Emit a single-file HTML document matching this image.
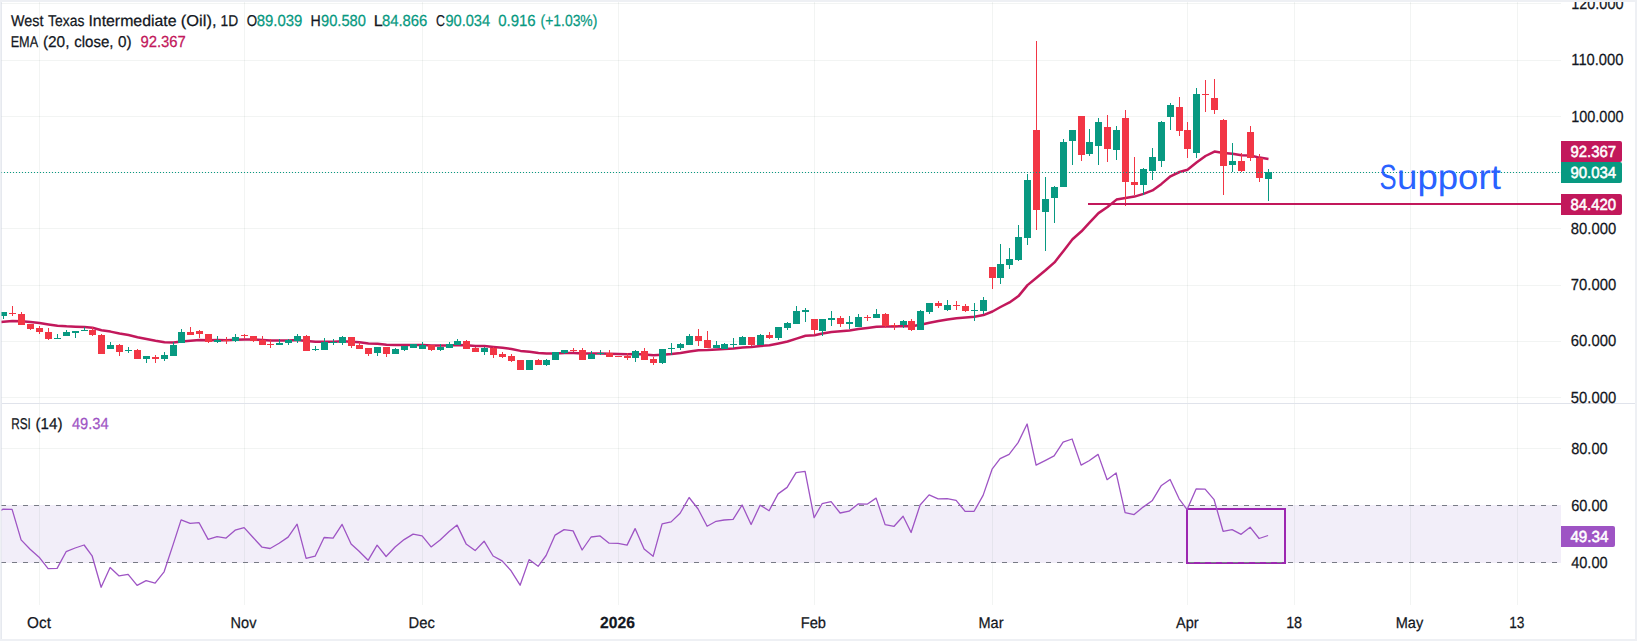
<!DOCTYPE html>
<html lang="en"><head><meta charset="utf-8"><title>WTI Oil chart</title>
<style>html,body{margin:0;padding:0;background:#fff}body{width:1637px;height:641px;overflow:hidden}svg text{font-family:"Liberation Sans",Arial,Helvetica,sans-serif;text-rendering:geometricPrecision}</style></head>
<body>
<svg width="1637" height="641" viewBox="0 0 1637 641" style="display:block">
<rect x="0" y="0" width="1637" height="641" fill="#eef0f4"/>
<rect x="2" y="2" width="1633" height="637" fill="#ffffff"/>
<rect x="1" y="505" width="1560" height="58" fill="#f2eef9"/>
<g shape-rendering="crispEdges" fill="#283c32" fill-opacity="0.06">
<rect x="39" y="2" width="1" height="401"/>
<rect x="39" y="404" width="1" height="201"/>
<rect x="244" y="2" width="1" height="401"/>
<rect x="244" y="404" width="1" height="201"/>
<rect x="422" y="2" width="1" height="401"/>
<rect x="422" y="404" width="1" height="201"/>
<rect x="618" y="2" width="1" height="401"/>
<rect x="618" y="404" width="1" height="201"/>
<rect x="814" y="2" width="1" height="401"/>
<rect x="814" y="404" width="1" height="201"/>
<rect x="992" y="2" width="1" height="401"/>
<rect x="992" y="404" width="1" height="201"/>
<rect x="1187" y="2" width="1" height="401"/>
<rect x="1187" y="404" width="1" height="201"/>
<rect x="1294" y="2" width="1" height="401"/>
<rect x="1294" y="404" width="1" height="201"/>
<rect x="1410" y="2" width="1" height="401"/>
<rect x="1410" y="404" width="1" height="201"/>
<rect x="1517" y="2" width="1" height="401"/>
<rect x="1517" y="404" width="1" height="201"/>
<rect x="1" y="3" width="1560" height="1"/>
<rect x="1" y="60" width="1560" height="1"/>
<rect x="1" y="116" width="1560" height="1"/>
<rect x="1" y="172" width="1560" height="1"/>
<rect x="1" y="228" width="1560" height="1"/>
<rect x="1" y="285" width="1560" height="1"/>
<rect x="1" y="341" width="1560" height="1"/>
<rect x="1" y="397" width="1560" height="1"/>
<rect x="1" y="448" width="1560" height="1"/>
</g>
<rect x="2" y="403" width="1633" height="1" fill="#e0e3eb" shape-rendering="crispEdges"/>
<rect x="1187" y="509" width="98" height="54" fill="none" stroke="#9C27B0" stroke-width="2"/>
<g shape-rendering="crispEdges" fill="#787b86">
<rect x="1" y="505" width="5" height="1"/>
<rect x="12" y="505" width="5" height="1"/>
<rect x="23" y="505" width="5" height="1"/>
<rect x="34" y="505" width="5" height="1"/>
<rect x="45" y="505" width="5" height="1"/>
<rect x="56" y="505" width="5" height="1"/>
<rect x="67" y="505" width="5" height="1"/>
<rect x="78" y="505" width="5" height="1"/>
<rect x="89" y="505" width="5" height="1"/>
<rect x="100" y="505" width="5" height="1"/>
<rect x="111" y="505" width="5" height="1"/>
<rect x="122" y="505" width="5" height="1"/>
<rect x="133" y="505" width="5" height="1"/>
<rect x="144" y="505" width="5" height="1"/>
<rect x="155" y="505" width="5" height="1"/>
<rect x="166" y="505" width="5" height="1"/>
<rect x="177" y="505" width="5" height="1"/>
<rect x="188" y="505" width="5" height="1"/>
<rect x="199" y="505" width="5" height="1"/>
<rect x="210" y="505" width="5" height="1"/>
<rect x="221" y="505" width="5" height="1"/>
<rect x="232" y="505" width="5" height="1"/>
<rect x="243" y="505" width="5" height="1"/>
<rect x="254" y="505" width="5" height="1"/>
<rect x="265" y="505" width="5" height="1"/>
<rect x="276" y="505" width="5" height="1"/>
<rect x="287" y="505" width="5" height="1"/>
<rect x="298" y="505" width="5" height="1"/>
<rect x="309" y="505" width="5" height="1"/>
<rect x="320" y="505" width="5" height="1"/>
<rect x="331" y="505" width="5" height="1"/>
<rect x="342" y="505" width="5" height="1"/>
<rect x="353" y="505" width="5" height="1"/>
<rect x="364" y="505" width="5" height="1"/>
<rect x="375" y="505" width="5" height="1"/>
<rect x="386" y="505" width="5" height="1"/>
<rect x="397" y="505" width="5" height="1"/>
<rect x="408" y="505" width="5" height="1"/>
<rect x="419" y="505" width="5" height="1"/>
<rect x="430" y="505" width="5" height="1"/>
<rect x="441" y="505" width="5" height="1"/>
<rect x="452" y="505" width="5" height="1"/>
<rect x="463" y="505" width="5" height="1"/>
<rect x="474" y="505" width="5" height="1"/>
<rect x="485" y="505" width="5" height="1"/>
<rect x="496" y="505" width="5" height="1"/>
<rect x="507" y="505" width="5" height="1"/>
<rect x="518" y="505" width="5" height="1"/>
<rect x="529" y="505" width="5" height="1"/>
<rect x="540" y="505" width="5" height="1"/>
<rect x="551" y="505" width="5" height="1"/>
<rect x="562" y="505" width="5" height="1"/>
<rect x="573" y="505" width="5" height="1"/>
<rect x="584" y="505" width="5" height="1"/>
<rect x="595" y="505" width="5" height="1"/>
<rect x="606" y="505" width="5" height="1"/>
<rect x="617" y="505" width="5" height="1"/>
<rect x="628" y="505" width="5" height="1"/>
<rect x="639" y="505" width="5" height="1"/>
<rect x="650" y="505" width="5" height="1"/>
<rect x="661" y="505" width="5" height="1"/>
<rect x="672" y="505" width="5" height="1"/>
<rect x="683" y="505" width="5" height="1"/>
<rect x="694" y="505" width="5" height="1"/>
<rect x="705" y="505" width="5" height="1"/>
<rect x="716" y="505" width="5" height="1"/>
<rect x="727" y="505" width="5" height="1"/>
<rect x="738" y="505" width="5" height="1"/>
<rect x="749" y="505" width="5" height="1"/>
<rect x="760" y="505" width="5" height="1"/>
<rect x="771" y="505" width="5" height="1"/>
<rect x="782" y="505" width="5" height="1"/>
<rect x="793" y="505" width="5" height="1"/>
<rect x="804" y="505" width="5" height="1"/>
<rect x="815" y="505" width="5" height="1"/>
<rect x="826" y="505" width="5" height="1"/>
<rect x="837" y="505" width="5" height="1"/>
<rect x="848" y="505" width="5" height="1"/>
<rect x="859" y="505" width="5" height="1"/>
<rect x="870" y="505" width="5" height="1"/>
<rect x="881" y="505" width="5" height="1"/>
<rect x="892" y="505" width="5" height="1"/>
<rect x="903" y="505" width="5" height="1"/>
<rect x="914" y="505" width="5" height="1"/>
<rect x="925" y="505" width="5" height="1"/>
<rect x="936" y="505" width="5" height="1"/>
<rect x="947" y="505" width="5" height="1"/>
<rect x="958" y="505" width="5" height="1"/>
<rect x="969" y="505" width="5" height="1"/>
<rect x="980" y="505" width="5" height="1"/>
<rect x="991" y="505" width="5" height="1"/>
<rect x="1002" y="505" width="5" height="1"/>
<rect x="1013" y="505" width="5" height="1"/>
<rect x="1024" y="505" width="5" height="1"/>
<rect x="1035" y="505" width="5" height="1"/>
<rect x="1046" y="505" width="5" height="1"/>
<rect x="1057" y="505" width="5" height="1"/>
<rect x="1068" y="505" width="5" height="1"/>
<rect x="1079" y="505" width="5" height="1"/>
<rect x="1090" y="505" width="5" height="1"/>
<rect x="1101" y="505" width="5" height="1"/>
<rect x="1112" y="505" width="5" height="1"/>
<rect x="1123" y="505" width="5" height="1"/>
<rect x="1134" y="505" width="5" height="1"/>
<rect x="1145" y="505" width="5" height="1"/>
<rect x="1156" y="505" width="5" height="1"/>
<rect x="1167" y="505" width="5" height="1"/>
<rect x="1178" y="505" width="5" height="1"/>
<rect x="1189" y="505" width="5" height="1"/>
<rect x="1200" y="505" width="5" height="1"/>
<rect x="1211" y="505" width="5" height="1"/>
<rect x="1222" y="505" width="5" height="1"/>
<rect x="1233" y="505" width="5" height="1"/>
<rect x="1244" y="505" width="5" height="1"/>
<rect x="1255" y="505" width="5" height="1"/>
<rect x="1266" y="505" width="5" height="1"/>
<rect x="1277" y="505" width="5" height="1"/>
<rect x="1288" y="505" width="5" height="1"/>
<rect x="1299" y="505" width="5" height="1"/>
<rect x="1310" y="505" width="5" height="1"/>
<rect x="1321" y="505" width="5" height="1"/>
<rect x="1332" y="505" width="5" height="1"/>
<rect x="1343" y="505" width="5" height="1"/>
<rect x="1354" y="505" width="5" height="1"/>
<rect x="1365" y="505" width="5" height="1"/>
<rect x="1376" y="505" width="5" height="1"/>
<rect x="1387" y="505" width="5" height="1"/>
<rect x="1398" y="505" width="5" height="1"/>
<rect x="1409" y="505" width="5" height="1"/>
<rect x="1420" y="505" width="5" height="1"/>
<rect x="1431" y="505" width="5" height="1"/>
<rect x="1442" y="505" width="5" height="1"/>
<rect x="1453" y="505" width="5" height="1"/>
<rect x="1464" y="505" width="5" height="1"/>
<rect x="1475" y="505" width="5" height="1"/>
<rect x="1486" y="505" width="5" height="1"/>
<rect x="1497" y="505" width="5" height="1"/>
<rect x="1508" y="505" width="5" height="1"/>
<rect x="1519" y="505" width="5" height="1"/>
<rect x="1530" y="505" width="5" height="1"/>
<rect x="1541" y="505" width="5" height="1"/>
<rect x="1552" y="505" width="5" height="1"/>
<rect x="1" y="562" width="5" height="1"/>
<rect x="12" y="562" width="5" height="1"/>
<rect x="23" y="562" width="5" height="1"/>
<rect x="34" y="562" width="5" height="1"/>
<rect x="45" y="562" width="5" height="1"/>
<rect x="56" y="562" width="5" height="1"/>
<rect x="67" y="562" width="5" height="1"/>
<rect x="78" y="562" width="5" height="1"/>
<rect x="89" y="562" width="5" height="1"/>
<rect x="100" y="562" width="5" height="1"/>
<rect x="111" y="562" width="5" height="1"/>
<rect x="122" y="562" width="5" height="1"/>
<rect x="133" y="562" width="5" height="1"/>
<rect x="144" y="562" width="5" height="1"/>
<rect x="155" y="562" width="5" height="1"/>
<rect x="166" y="562" width="5" height="1"/>
<rect x="177" y="562" width="5" height="1"/>
<rect x="188" y="562" width="5" height="1"/>
<rect x="199" y="562" width="5" height="1"/>
<rect x="210" y="562" width="5" height="1"/>
<rect x="221" y="562" width="5" height="1"/>
<rect x="232" y="562" width="5" height="1"/>
<rect x="243" y="562" width="5" height="1"/>
<rect x="254" y="562" width="5" height="1"/>
<rect x="265" y="562" width="5" height="1"/>
<rect x="276" y="562" width="5" height="1"/>
<rect x="287" y="562" width="5" height="1"/>
<rect x="298" y="562" width="5" height="1"/>
<rect x="309" y="562" width="5" height="1"/>
<rect x="320" y="562" width="5" height="1"/>
<rect x="331" y="562" width="5" height="1"/>
<rect x="342" y="562" width="5" height="1"/>
<rect x="353" y="562" width="5" height="1"/>
<rect x="364" y="562" width="5" height="1"/>
<rect x="375" y="562" width="5" height="1"/>
<rect x="386" y="562" width="5" height="1"/>
<rect x="397" y="562" width="5" height="1"/>
<rect x="408" y="562" width="5" height="1"/>
<rect x="419" y="562" width="5" height="1"/>
<rect x="430" y="562" width="5" height="1"/>
<rect x="441" y="562" width="5" height="1"/>
<rect x="452" y="562" width="5" height="1"/>
<rect x="463" y="562" width="5" height="1"/>
<rect x="474" y="562" width="5" height="1"/>
<rect x="485" y="562" width="5" height="1"/>
<rect x="496" y="562" width="5" height="1"/>
<rect x="507" y="562" width="5" height="1"/>
<rect x="518" y="562" width="5" height="1"/>
<rect x="529" y="562" width="5" height="1"/>
<rect x="540" y="562" width="5" height="1"/>
<rect x="551" y="562" width="5" height="1"/>
<rect x="562" y="562" width="5" height="1"/>
<rect x="573" y="562" width="5" height="1"/>
<rect x="584" y="562" width="5" height="1"/>
<rect x="595" y="562" width="5" height="1"/>
<rect x="606" y="562" width="5" height="1"/>
<rect x="617" y="562" width="5" height="1"/>
<rect x="628" y="562" width="5" height="1"/>
<rect x="639" y="562" width="5" height="1"/>
<rect x="650" y="562" width="5" height="1"/>
<rect x="661" y="562" width="5" height="1"/>
<rect x="672" y="562" width="5" height="1"/>
<rect x="683" y="562" width="5" height="1"/>
<rect x="694" y="562" width="5" height="1"/>
<rect x="705" y="562" width="5" height="1"/>
<rect x="716" y="562" width="5" height="1"/>
<rect x="727" y="562" width="5" height="1"/>
<rect x="738" y="562" width="5" height="1"/>
<rect x="749" y="562" width="5" height="1"/>
<rect x="760" y="562" width="5" height="1"/>
<rect x="771" y="562" width="5" height="1"/>
<rect x="782" y="562" width="5" height="1"/>
<rect x="793" y="562" width="5" height="1"/>
<rect x="804" y="562" width="5" height="1"/>
<rect x="815" y="562" width="5" height="1"/>
<rect x="826" y="562" width="5" height="1"/>
<rect x="837" y="562" width="5" height="1"/>
<rect x="848" y="562" width="5" height="1"/>
<rect x="859" y="562" width="5" height="1"/>
<rect x="870" y="562" width="5" height="1"/>
<rect x="881" y="562" width="5" height="1"/>
<rect x="892" y="562" width="5" height="1"/>
<rect x="903" y="562" width="5" height="1"/>
<rect x="914" y="562" width="5" height="1"/>
<rect x="925" y="562" width="5" height="1"/>
<rect x="936" y="562" width="5" height="1"/>
<rect x="947" y="562" width="5" height="1"/>
<rect x="958" y="562" width="5" height="1"/>
<rect x="969" y="562" width="5" height="1"/>
<rect x="980" y="562" width="5" height="1"/>
<rect x="991" y="562" width="5" height="1"/>
<rect x="1002" y="562" width="5" height="1"/>
<rect x="1013" y="562" width="5" height="1"/>
<rect x="1024" y="562" width="5" height="1"/>
<rect x="1035" y="562" width="5" height="1"/>
<rect x="1046" y="562" width="5" height="1"/>
<rect x="1057" y="562" width="5" height="1"/>
<rect x="1068" y="562" width="5" height="1"/>
<rect x="1079" y="562" width="5" height="1"/>
<rect x="1090" y="562" width="5" height="1"/>
<rect x="1101" y="562" width="5" height="1"/>
<rect x="1112" y="562" width="5" height="1"/>
<rect x="1123" y="562" width="5" height="1"/>
<rect x="1134" y="562" width="5" height="1"/>
<rect x="1145" y="562" width="5" height="1"/>
<rect x="1156" y="562" width="5" height="1"/>
<rect x="1167" y="562" width="5" height="1"/>
<rect x="1178" y="562" width="5" height="1"/>
<rect x="1189" y="562" width="5" height="1"/>
<rect x="1200" y="562" width="5" height="1"/>
<rect x="1211" y="562" width="5" height="1"/>
<rect x="1222" y="562" width="5" height="1"/>
<rect x="1233" y="562" width="5" height="1"/>
<rect x="1244" y="562" width="5" height="1"/>
<rect x="1255" y="562" width="5" height="1"/>
<rect x="1266" y="562" width="5" height="1"/>
<rect x="1277" y="562" width="5" height="1"/>
<rect x="1288" y="562" width="5" height="1"/>
<rect x="1299" y="562" width="5" height="1"/>
<rect x="1310" y="562" width="5" height="1"/>
<rect x="1321" y="562" width="5" height="1"/>
<rect x="1332" y="562" width="5" height="1"/>
<rect x="1343" y="562" width="5" height="1"/>
<rect x="1354" y="562" width="5" height="1"/>
<rect x="1365" y="562" width="5" height="1"/>
<rect x="1376" y="562" width="5" height="1"/>
<rect x="1387" y="562" width="5" height="1"/>
<rect x="1398" y="562" width="5" height="1"/>
<rect x="1409" y="562" width="5" height="1"/>
<rect x="1420" y="562" width="5" height="1"/>
<rect x="1431" y="562" width="5" height="1"/>
<rect x="1442" y="562" width="5" height="1"/>
<rect x="1453" y="562" width="5" height="1"/>
<rect x="1464" y="562" width="5" height="1"/>
<rect x="1475" y="562" width="5" height="1"/>
<rect x="1486" y="562" width="5" height="1"/>
<rect x="1497" y="562" width="5" height="1"/>
<rect x="1508" y="562" width="5" height="1"/>
<rect x="1519" y="562" width="5" height="1"/>
<rect x="1530" y="562" width="5" height="1"/>
<rect x="1541" y="562" width="5" height="1"/>
<rect x="1552" y="562" width="5" height="1"/>
</g>
<polyline fill="none" stroke="#C2185B" stroke-width="2.5" stroke-linejoin="round" stroke-linecap="butt" points="1.0,322.1 3.5,321.7 12.5,320.9 21.5,321.3 30.5,321.9 39.5,322.9 48.5,324.4 57.5,325.7 66.5,326.3 75.5,326.7 84.5,327.0 92.5,327.7 101.5,330.2 110.5,331.6 119.5,333.5 128.5,335.0 137.5,337.2 146.5,339.0 155.5,340.8 164.5,342.2 173.5,342.4 181.5,341.4 190.5,340.8 199.5,340.1 208.5,340.2 217.5,340.1 226.5,340.2 235.5,339.8 244.5,339.5 253.5,339.5 262.5,340.0 270.5,340.4 279.5,340.6 288.5,340.6 297.5,340.1 306.5,341.1 315.5,341.8 324.5,341.8 333.5,341.8 342.5,341.3 351.5,341.7 359.5,342.3 368.5,343.4 377.5,343.7 386.5,344.7 395.5,345.0 404.5,345.1 413.5,345.0 422.5,345.0 431.5,345.4 440.5,345.6 449.5,345.4 457.5,345.0 466.5,345.3 475.5,345.9 484.5,346.1 493.5,346.9 502.5,347.8 511.5,349.0 520.5,350.9 529.5,351.8 538.5,353.0 546.5,353.6 555.5,353.5 564.5,353.1 573.5,352.9 582.5,353.5 591.5,353.5 600.5,353.5 609.5,353.8 618.5,354.0 627.5,354.3 635.5,354.0 644.5,354.5 653.5,355.3 662.5,354.7 671.5,354.0 680.5,353.0 689.5,351.4 698.5,350.3 707.5,350.1 716.5,349.6 724.5,349.0 733.5,348.5 742.5,347.4 751.5,347.1 760.5,346.0 769.5,345.2 778.5,343.4 787.5,341.5 796.5,338.6 805.5,335.8 814.5,335.2 822.5,333.6 831.5,332.1 840.5,331.3 849.5,330.4 858.5,329.1 867.5,328.0 876.5,326.7 885.5,326.6 894.5,326.5 903.5,325.9 911.5,326.3 920.5,324.8 929.5,322.7 938.5,321.1 947.5,319.5 956.5,318.2 965.5,317.5 974.5,316.7 983.5,315.1 992.5,311.5 1000.5,307.0 1009.5,302.4 1018.5,296.1 1027.5,285.1 1036.5,277.8 1045.5,270.3 1054.5,262.4 1063.5,250.9 1072.5,239.3 1081.5,231.3 1089.5,222.7 1098.5,213.1 1107.5,207.0 1116.5,199.6 1125.5,197.9 1134.5,196.6 1143.5,193.9 1152.5,190.4 1161.5,183.9 1170.5,176.3 1179.5,172.0 1187.5,169.7 1196.5,162.5 1205.5,156.0 1214.5,151.6 1223.5,152.9 1232.5,153.7 1241.5,155.3 1250.5,155.5 1259.5,157.6 1268.5,158.9"/>
<g shape-rendering="crispEdges">
<rect x="3" y="312" width="1" height="7" fill="#089981"/>
<rect x="0" y="312" width="7" height="4" fill="#089981"/>
<rect x="12" y="306" width="1" height="10" fill="#F23645"/>
<rect x="9" y="313" width="7" height="1" fill="#F23645"/>
<rect x="21" y="312" width="1" height="13" fill="#F23645"/>
<rect x="18" y="314" width="7" height="11" fill="#F23645"/>
<rect x="30" y="324" width="1" height="6" fill="#F23645"/>
<rect x="27" y="324" width="7" height="5" fill="#F23645"/>
<rect x="39" y="326" width="1" height="8" fill="#F23645"/>
<rect x="36" y="328" width="7" height="4" fill="#F23645"/>
<rect x="48" y="328" width="1" height="12" fill="#F23645"/>
<rect x="45" y="332" width="7" height="7" fill="#F23645"/>
<rect x="57" y="334" width="1" height="5" fill="#089981"/>
<rect x="54" y="338" width="7" height="1" fill="#089981"/>
<rect x="66" y="330" width="1" height="6" fill="#089981"/>
<rect x="63" y="332" width="7" height="4" fill="#089981"/>
<rect x="75" y="331" width="1" height="7" fill="#089981"/>
<rect x="72" y="331" width="7" height="2" fill="#089981"/>
<rect x="84" y="327" width="1" height="4" fill="#089981"/>
<rect x="81" y="330" width="7" height="1" fill="#089981"/>
<rect x="92" y="327" width="1" height="9" fill="#F23645"/>
<rect x="89" y="330" width="7" height="5" fill="#F23645"/>
<rect x="101" y="334" width="1" height="20" fill="#F23645"/>
<rect x="98" y="335" width="7" height="19" fill="#F23645"/>
<rect x="110" y="342" width="1" height="7" fill="#089981"/>
<rect x="107" y="345" width="7" height="4" fill="#089981"/>
<rect x="119" y="344" width="1" height="12" fill="#F23645"/>
<rect x="116" y="345" width="7" height="7" fill="#F23645"/>
<rect x="128" y="347" width="1" height="6" fill="#089981"/>
<rect x="125" y="350" width="7" height="1" fill="#089981"/>
<rect x="137" y="349" width="1" height="10" fill="#F23645"/>
<rect x="134" y="350" width="7" height="9" fill="#F23645"/>
<rect x="146" y="356" width="1" height="7" fill="#089981"/>
<rect x="143" y="356" width="7" height="3" fill="#089981"/>
<rect x="155" y="355" width="1" height="8" fill="#F23645"/>
<rect x="152" y="357" width="7" height="2" fill="#F23645"/>
<rect x="164" y="352" width="1" height="9" fill="#089981"/>
<rect x="161" y="355" width="7" height="4" fill="#089981"/>
<rect x="173" y="342" width="1" height="14" fill="#089981"/>
<rect x="170" y="345" width="7" height="11" fill="#089981"/>
<rect x="181" y="329" width="1" height="14" fill="#089981"/>
<rect x="178" y="332" width="7" height="11" fill="#089981"/>
<rect x="190" y="327" width="1" height="8" fill="#F23645"/>
<rect x="187" y="332" width="7" height="3" fill="#F23645"/>
<rect x="199" y="330" width="1" height="8" fill="#F23645"/>
<rect x="196" y="331" width="7" height="3" fill="#F23645"/>
<rect x="208" y="334" width="1" height="9" fill="#F23645"/>
<rect x="205" y="334" width="7" height="8" fill="#F23645"/>
<rect x="217" y="336" width="1" height="7" fill="#089981"/>
<rect x="214" y="340" width="7" height="2" fill="#089981"/>
<rect x="226" y="337" width="1" height="7" fill="#F23645"/>
<rect x="223" y="340" width="7" height="1" fill="#F23645"/>
<rect x="235" y="334" width="1" height="8" fill="#089981"/>
<rect x="232" y="337" width="7" height="4" fill="#089981"/>
<rect x="244" y="334" width="1" height="5" fill="#F23645"/>
<rect x="241" y="335" width="7" height="1" fill="#F23645"/>
<rect x="253" y="336" width="1" height="6" fill="#F23645"/>
<rect x="250" y="336" width="7" height="5" fill="#F23645"/>
<rect x="262" y="336" width="1" height="9" fill="#F23645"/>
<rect x="259" y="340" width="7" height="5" fill="#F23645"/>
<rect x="270" y="339" width="1" height="9" fill="#F23645"/>
<rect x="267" y="344" width="7" height="1" fill="#F23645"/>
<rect x="279" y="339" width="1" height="6" fill="#089981"/>
<rect x="276" y="343" width="7" height="2" fill="#089981"/>
<rect x="288" y="339" width="1" height="6" fill="#089981"/>
<rect x="285" y="340" width="7" height="3" fill="#089981"/>
<rect x="297" y="334" width="1" height="9" fill="#089981"/>
<rect x="294" y="336" width="7" height="5" fill="#089981"/>
<rect x="306" y="335" width="1" height="16" fill="#F23645"/>
<rect x="303" y="336" width="7" height="15" fill="#F23645"/>
<rect x="315" y="346" width="1" height="5" fill="#089981"/>
<rect x="312" y="349" width="7" height="1" fill="#089981"/>
<rect x="324" y="338" width="1" height="12" fill="#089981"/>
<rect x="321" y="342" width="7" height="8" fill="#089981"/>
<rect x="333" y="339" width="1" height="6" fill="#089981"/>
<rect x="330" y="342" width="7" height="1" fill="#089981"/>
<rect x="342" y="336" width="1" height="9" fill="#089981"/>
<rect x="339" y="337" width="7" height="6" fill="#089981"/>
<rect x="351" y="337" width="1" height="11" fill="#F23645"/>
<rect x="348" y="337" width="7" height="9" fill="#F23645"/>
<rect x="359" y="342" width="1" height="7" fill="#F23645"/>
<rect x="356" y="345" width="7" height="4" fill="#F23645"/>
<rect x="368" y="348" width="1" height="8" fill="#F23645"/>
<rect x="365" y="348" width="7" height="6" fill="#F23645"/>
<rect x="377" y="347" width="1" height="9" fill="#089981"/>
<rect x="374" y="347" width="7" height="6" fill="#089981"/>
<rect x="386" y="347" width="1" height="10" fill="#F23645"/>
<rect x="383" y="347" width="7" height="7" fill="#F23645"/>
<rect x="395" y="348" width="1" height="6" fill="#089981"/>
<rect x="392" y="349" width="7" height="5" fill="#089981"/>
<rect x="404" y="346" width="1" height="5" fill="#089981"/>
<rect x="401" y="346" width="7" height="4" fill="#089981"/>
<rect x="413" y="344" width="1" height="4" fill="#089981"/>
<rect x="410" y="344" width="7" height="4" fill="#089981"/>
<rect x="422" y="342" width="1" height="7" fill="#089981"/>
<rect x="419" y="345" width="7" height="4" fill="#089981"/>
<rect x="431" y="345" width="1" height="6" fill="#F23645"/>
<rect x="428" y="345" width="7" height="5" fill="#F23645"/>
<rect x="440" y="344" width="1" height="7" fill="#089981"/>
<rect x="437" y="347" width="7" height="3" fill="#089981"/>
<rect x="449" y="342" width="1" height="6" fill="#089981"/>
<rect x="446" y="344" width="7" height="4" fill="#089981"/>
<rect x="457" y="339" width="1" height="6" fill="#089981"/>
<rect x="454" y="341" width="7" height="4" fill="#089981"/>
<rect x="466" y="340" width="1" height="9" fill="#F23645"/>
<rect x="463" y="341" width="7" height="8" fill="#F23645"/>
<rect x="475" y="347" width="1" height="5" fill="#F23645"/>
<rect x="472" y="348" width="7" height="4" fill="#F23645"/>
<rect x="484" y="347" width="1" height="8" fill="#089981"/>
<rect x="481" y="348" width="7" height="4" fill="#089981"/>
<rect x="493" y="347" width="1" height="11" fill="#F23645"/>
<rect x="490" y="348" width="7" height="7" fill="#F23645"/>
<rect x="502" y="352" width="1" height="6" fill="#F23645"/>
<rect x="499" y="354" width="7" height="3" fill="#F23645"/>
<rect x="511" y="354" width="1" height="8" fill="#F23645"/>
<rect x="508" y="356" width="7" height="5" fill="#F23645"/>
<rect x="520" y="360" width="1" height="10" fill="#F23645"/>
<rect x="517" y="360" width="7" height="10" fill="#F23645"/>
<rect x="529" y="360" width="1" height="10" fill="#089981"/>
<rect x="526" y="360" width="7" height="10" fill="#089981"/>
<rect x="538" y="359" width="1" height="6" fill="#F23645"/>
<rect x="535" y="360" width="7" height="5" fill="#F23645"/>
<rect x="546" y="359" width="1" height="7" fill="#089981"/>
<rect x="543" y="360" width="7" height="5" fill="#089981"/>
<rect x="555" y="352" width="1" height="8" fill="#089981"/>
<rect x="552" y="352" width="7" height="8" fill="#089981"/>
<rect x="564" y="350" width="1" height="4" fill="#089981"/>
<rect x="561" y="350" width="7" height="3" fill="#089981"/>
<rect x="573" y="348" width="1" height="4" fill="#F23645"/>
<rect x="570" y="350" width="7" height="1" fill="#F23645"/>
<rect x="582" y="348" width="1" height="12" fill="#F23645"/>
<rect x="579" y="350" width="7" height="10" fill="#F23645"/>
<rect x="591" y="351" width="1" height="8" fill="#089981"/>
<rect x="588" y="354" width="7" height="5" fill="#089981"/>
<rect x="600" y="350" width="1" height="5" fill="#089981"/>
<rect x="597" y="353" width="7" height="1" fill="#089981"/>
<rect x="609" y="350" width="1" height="7" fill="#F23645"/>
<rect x="606" y="353" width="7" height="4" fill="#F23645"/>
<rect x="618" y="356" width="1" height="1" fill="#F23645"/>
<rect x="615" y="356" width="7" height="1" fill="#F23645"/>
<rect x="627" y="353" width="1" height="7" fill="#F23645"/>
<rect x="624" y="356" width="7" height="2" fill="#F23645"/>
<rect x="635" y="350" width="1" height="12" fill="#089981"/>
<rect x="632" y="351" width="7" height="7" fill="#089981"/>
<rect x="644" y="348" width="1" height="12" fill="#F23645"/>
<rect x="641" y="351" width="7" height="9" fill="#F23645"/>
<rect x="653" y="357" width="1" height="8" fill="#F23645"/>
<rect x="650" y="359" width="7" height="4" fill="#F23645"/>
<rect x="662" y="349" width="1" height="15" fill="#089981"/>
<rect x="659" y="349" width="7" height="14" fill="#089981"/>
<rect x="671" y="343" width="1" height="12" fill="#089981"/>
<rect x="668" y="348" width="7" height="1" fill="#089981"/>
<rect x="680" y="343" width="1" height="7" fill="#089981"/>
<rect x="677" y="344" width="7" height="4" fill="#089981"/>
<rect x="689" y="334" width="1" height="11" fill="#089981"/>
<rect x="686" y="336" width="7" height="9" fill="#089981"/>
<rect x="698" y="329" width="1" height="17" fill="#F23645"/>
<rect x="695" y="336" width="7" height="5" fill="#F23645"/>
<rect x="707" y="331" width="1" height="17" fill="#F23645"/>
<rect x="704" y="340" width="7" height="8" fill="#F23645"/>
<rect x="716" y="341" width="1" height="7" fill="#089981"/>
<rect x="713" y="345" width="7" height="3" fill="#089981"/>
<rect x="724" y="343" width="1" height="6" fill="#089981"/>
<rect x="721" y="344" width="7" height="5" fill="#089981"/>
<rect x="733" y="338" width="1" height="10" fill="#089981"/>
<rect x="730" y="344" width="7" height="1" fill="#089981"/>
<rect x="742" y="336" width="1" height="9" fill="#089981"/>
<rect x="739" y="337" width="7" height="8" fill="#089981"/>
<rect x="751" y="337" width="1" height="9" fill="#F23645"/>
<rect x="748" y="337" width="7" height="8" fill="#F23645"/>
<rect x="760" y="334" width="1" height="11" fill="#089981"/>
<rect x="757" y="335" width="7" height="10" fill="#089981"/>
<rect x="769" y="332" width="1" height="7" fill="#F23645"/>
<rect x="766" y="335" width="7" height="3" fill="#F23645"/>
<rect x="778" y="327" width="1" height="13" fill="#089981"/>
<rect x="775" y="327" width="7" height="11" fill="#089981"/>
<rect x="787" y="322" width="1" height="8" fill="#089981"/>
<rect x="784" y="323" width="7" height="5" fill="#089981"/>
<rect x="796" y="306" width="1" height="18" fill="#089981"/>
<rect x="793" y="311" width="7" height="13" fill="#089981"/>
<rect x="805" y="308" width="1" height="14" fill="#089981"/>
<rect x="802" y="310" width="7" height="2" fill="#089981"/>
<rect x="814" y="319" width="1" height="15" fill="#F23645"/>
<rect x="811" y="319" width="7" height="11" fill="#F23645"/>
<rect x="822" y="319" width="1" height="17" fill="#089981"/>
<rect x="819" y="319" width="7" height="12" fill="#089981"/>
<rect x="831" y="311" width="1" height="15" fill="#089981"/>
<rect x="828" y="318" width="7" height="2" fill="#089981"/>
<rect x="840" y="316" width="1" height="11" fill="#F23645"/>
<rect x="837" y="318" width="7" height="6" fill="#F23645"/>
<rect x="849" y="316" width="1" height="13" fill="#089981"/>
<rect x="846" y="322" width="7" height="2" fill="#089981"/>
<rect x="858" y="314" width="1" height="13" fill="#089981"/>
<rect x="855" y="317" width="7" height="10" fill="#089981"/>
<rect x="867" y="315" width="1" height="6" fill="#F23645"/>
<rect x="864" y="317" width="7" height="1" fill="#F23645"/>
<rect x="876" y="309" width="1" height="9" fill="#089981"/>
<rect x="873" y="314" width="7" height="4" fill="#089981"/>
<rect x="885" y="313" width="1" height="15" fill="#F23645"/>
<rect x="882" y="314" width="7" height="12" fill="#F23645"/>
<rect x="894" y="323" width="1" height="7" fill="#F23645"/>
<rect x="891" y="325" width="7" height="1" fill="#F23645"/>
<rect x="903" y="320" width="1" height="8" fill="#089981"/>
<rect x="900" y="321" width="7" height="4" fill="#089981"/>
<rect x="911" y="319" width="1" height="12" fill="#F23645"/>
<rect x="908" y="321" width="7" height="9" fill="#F23645"/>
<rect x="920" y="310" width="1" height="20" fill="#089981"/>
<rect x="917" y="311" width="7" height="19" fill="#089981"/>
<rect x="929" y="303" width="1" height="11" fill="#089981"/>
<rect x="926" y="303" width="7" height="9" fill="#089981"/>
<rect x="938" y="301" width="1" height="7" fill="#F23645"/>
<rect x="935" y="303" width="7" height="3" fill="#F23645"/>
<rect x="947" y="300" width="1" height="11" fill="#089981"/>
<rect x="944" y="305" width="7" height="5" fill="#089981"/>
<rect x="956" y="301" width="1" height="9" fill="#F23645"/>
<rect x="953" y="305" width="7" height="1" fill="#F23645"/>
<rect x="965" y="304" width="1" height="8" fill="#F23645"/>
<rect x="962" y="306" width="7" height="5" fill="#F23645"/>
<rect x="974" y="303" width="1" height="18" fill="#089981"/>
<rect x="971" y="310" width="7" height="1" fill="#089981"/>
<rect x="983" y="297" width="1" height="17" fill="#089981"/>
<rect x="980" y="300" width="7" height="11" fill="#089981"/>
<rect x="992" y="267" width="1" height="22" fill="#F23645"/>
<rect x="989" y="267" width="7" height="11" fill="#F23645"/>
<rect x="1000" y="244" width="1" height="40" fill="#089981"/>
<rect x="997" y="264" width="7" height="14" fill="#089981"/>
<rect x="1009" y="248" width="1" height="21" fill="#089981"/>
<rect x="1006" y="259" width="7" height="6" fill="#089981"/>
<rect x="1018" y="225" width="1" height="36" fill="#089981"/>
<rect x="1015" y="237" width="7" height="23" fill="#089981"/>
<rect x="1027" y="174" width="1" height="71" fill="#089981"/>
<rect x="1024" y="180" width="7" height="58" fill="#089981"/>
<rect x="1036" y="41" width="1" height="189" fill="#F23645"/>
<rect x="1033" y="130" width="7" height="80" fill="#F23645"/>
<rect x="1045" y="177" width="1" height="74" fill="#089981"/>
<rect x="1042" y="199" width="7" height="13" fill="#089981"/>
<rect x="1054" y="186" width="1" height="37" fill="#089981"/>
<rect x="1051" y="187" width="7" height="11" fill="#089981"/>
<rect x="1063" y="139" width="1" height="48" fill="#089981"/>
<rect x="1060" y="142" width="7" height="45" fill="#089981"/>
<rect x="1072" y="130" width="1" height="35" fill="#089981"/>
<rect x="1069" y="130" width="7" height="11" fill="#089981"/>
<rect x="1081" y="116" width="1" height="45" fill="#F23645"/>
<rect x="1078" y="116" width="7" height="39" fill="#F23645"/>
<rect x="1089" y="129" width="1" height="27" fill="#089981"/>
<rect x="1086" y="142" width="7" height="12" fill="#089981"/>
<rect x="1098" y="118" width="1" height="47" fill="#089981"/>
<rect x="1095" y="122" width="7" height="24" fill="#089981"/>
<rect x="1107" y="115" width="1" height="47" fill="#F23645"/>
<rect x="1104" y="127" width="7" height="22" fill="#F23645"/>
<rect x="1116" y="126" width="1" height="34" fill="#089981"/>
<rect x="1113" y="130" width="7" height="20" fill="#089981"/>
<rect x="1125" y="110" width="1" height="96" fill="#F23645"/>
<rect x="1122" y="118" width="7" height="64" fill="#F23645"/>
<rect x="1134" y="157" width="1" height="38" fill="#F23645"/>
<rect x="1131" y="182" width="7" height="3" fill="#F23645"/>
<rect x="1143" y="168" width="1" height="27" fill="#089981"/>
<rect x="1140" y="169" width="7" height="16" fill="#089981"/>
<rect x="1152" y="148" width="1" height="32" fill="#089981"/>
<rect x="1149" y="157" width="7" height="14" fill="#089981"/>
<rect x="1161" y="121" width="1" height="46" fill="#089981"/>
<rect x="1158" y="122" width="7" height="39" fill="#089981"/>
<rect x="1170" y="103" width="1" height="27" fill="#089981"/>
<rect x="1167" y="105" width="7" height="12" fill="#089981"/>
<rect x="1179" y="97" width="1" height="39" fill="#F23645"/>
<rect x="1176" y="107" width="7" height="24" fill="#F23645"/>
<rect x="1187" y="122" width="1" height="36" fill="#F23645"/>
<rect x="1184" y="130" width="7" height="19" fill="#F23645"/>
<rect x="1196" y="88" width="1" height="70" fill="#089981"/>
<rect x="1193" y="94" width="7" height="59" fill="#089981"/>
<rect x="1205" y="80" width="1" height="32" fill="#F23645"/>
<rect x="1202" y="94" width="7" height="1" fill="#F23645"/>
<rect x="1214" y="79" width="1" height="35" fill="#F23645"/>
<rect x="1211" y="98" width="7" height="12" fill="#F23645"/>
<rect x="1223" y="119" width="1" height="76" fill="#F23645"/>
<rect x="1220" y="120" width="7" height="46" fill="#F23645"/>
<rect x="1232" y="143" width="1" height="29" fill="#089981"/>
<rect x="1229" y="161" width="7" height="4" fill="#089981"/>
<rect x="1241" y="153" width="1" height="19" fill="#F23645"/>
<rect x="1238" y="161" width="7" height="10" fill="#F23645"/>
<rect x="1250" y="126" width="1" height="35" fill="#F23645"/>
<rect x="1247" y="132" width="7" height="26" fill="#F23645"/>
<rect x="1259" y="154" width="1" height="28" fill="#F23645"/>
<rect x="1256" y="158" width="7" height="20" fill="#F23645"/>
<rect x="1268" y="169" width="1" height="32" fill="#089981"/>
<rect x="1265" y="172" width="7" height="7" fill="#089981"/>
</g>
<g shape-rendering="crispEdges" fill="#089981">
<rect x="1" y="172" width="1" height="1"/>
<rect x="4" y="172" width="1" height="1"/>
<rect x="7" y="172" width="1" height="1"/>
<rect x="10" y="172" width="1" height="1"/>
<rect x="13" y="172" width="1" height="1"/>
<rect x="16" y="172" width="1" height="1"/>
<rect x="19" y="172" width="1" height="1"/>
<rect x="22" y="172" width="1" height="1"/>
<rect x="25" y="172" width="1" height="1"/>
<rect x="28" y="172" width="1" height="1"/>
<rect x="31" y="172" width="1" height="1"/>
<rect x="34" y="172" width="1" height="1"/>
<rect x="37" y="172" width="1" height="1"/>
<rect x="40" y="172" width="1" height="1"/>
<rect x="43" y="172" width="1" height="1"/>
<rect x="46" y="172" width="1" height="1"/>
<rect x="49" y="172" width="1" height="1"/>
<rect x="52" y="172" width="1" height="1"/>
<rect x="55" y="172" width="1" height="1"/>
<rect x="58" y="172" width="1" height="1"/>
<rect x="61" y="172" width="1" height="1"/>
<rect x="64" y="172" width="1" height="1"/>
<rect x="67" y="172" width="1" height="1"/>
<rect x="70" y="172" width="1" height="1"/>
<rect x="73" y="172" width="1" height="1"/>
<rect x="76" y="172" width="1" height="1"/>
<rect x="79" y="172" width="1" height="1"/>
<rect x="82" y="172" width="1" height="1"/>
<rect x="85" y="172" width="1" height="1"/>
<rect x="88" y="172" width="1" height="1"/>
<rect x="91" y="172" width="1" height="1"/>
<rect x="94" y="172" width="1" height="1"/>
<rect x="97" y="172" width="1" height="1"/>
<rect x="100" y="172" width="1" height="1"/>
<rect x="103" y="172" width="1" height="1"/>
<rect x="106" y="172" width="1" height="1"/>
<rect x="109" y="172" width="1" height="1"/>
<rect x="112" y="172" width="1" height="1"/>
<rect x="115" y="172" width="1" height="1"/>
<rect x="118" y="172" width="1" height="1"/>
<rect x="121" y="172" width="1" height="1"/>
<rect x="124" y="172" width="1" height="1"/>
<rect x="127" y="172" width="1" height="1"/>
<rect x="130" y="172" width="1" height="1"/>
<rect x="133" y="172" width="1" height="1"/>
<rect x="136" y="172" width="1" height="1"/>
<rect x="139" y="172" width="1" height="1"/>
<rect x="142" y="172" width="1" height="1"/>
<rect x="145" y="172" width="1" height="1"/>
<rect x="148" y="172" width="1" height="1"/>
<rect x="151" y="172" width="1" height="1"/>
<rect x="154" y="172" width="1" height="1"/>
<rect x="157" y="172" width="1" height="1"/>
<rect x="160" y="172" width="1" height="1"/>
<rect x="163" y="172" width="1" height="1"/>
<rect x="166" y="172" width="1" height="1"/>
<rect x="169" y="172" width="1" height="1"/>
<rect x="172" y="172" width="1" height="1"/>
<rect x="175" y="172" width="1" height="1"/>
<rect x="178" y="172" width="1" height="1"/>
<rect x="181" y="172" width="1" height="1"/>
<rect x="184" y="172" width="1" height="1"/>
<rect x="187" y="172" width="1" height="1"/>
<rect x="190" y="172" width="1" height="1"/>
<rect x="193" y="172" width="1" height="1"/>
<rect x="196" y="172" width="1" height="1"/>
<rect x="199" y="172" width="1" height="1"/>
<rect x="202" y="172" width="1" height="1"/>
<rect x="205" y="172" width="1" height="1"/>
<rect x="208" y="172" width="1" height="1"/>
<rect x="211" y="172" width="1" height="1"/>
<rect x="214" y="172" width="1" height="1"/>
<rect x="217" y="172" width="1" height="1"/>
<rect x="220" y="172" width="1" height="1"/>
<rect x="223" y="172" width="1" height="1"/>
<rect x="226" y="172" width="1" height="1"/>
<rect x="229" y="172" width="1" height="1"/>
<rect x="232" y="172" width="1" height="1"/>
<rect x="235" y="172" width="1" height="1"/>
<rect x="238" y="172" width="1" height="1"/>
<rect x="241" y="172" width="1" height="1"/>
<rect x="244" y="172" width="1" height="1"/>
<rect x="247" y="172" width="1" height="1"/>
<rect x="250" y="172" width="1" height="1"/>
<rect x="253" y="172" width="1" height="1"/>
<rect x="256" y="172" width="1" height="1"/>
<rect x="259" y="172" width="1" height="1"/>
<rect x="262" y="172" width="1" height="1"/>
<rect x="265" y="172" width="1" height="1"/>
<rect x="268" y="172" width="1" height="1"/>
<rect x="271" y="172" width="1" height="1"/>
<rect x="274" y="172" width="1" height="1"/>
<rect x="277" y="172" width="1" height="1"/>
<rect x="280" y="172" width="1" height="1"/>
<rect x="283" y="172" width="1" height="1"/>
<rect x="286" y="172" width="1" height="1"/>
<rect x="289" y="172" width="1" height="1"/>
<rect x="292" y="172" width="1" height="1"/>
<rect x="295" y="172" width="1" height="1"/>
<rect x="298" y="172" width="1" height="1"/>
<rect x="301" y="172" width="1" height="1"/>
<rect x="304" y="172" width="1" height="1"/>
<rect x="307" y="172" width="1" height="1"/>
<rect x="310" y="172" width="1" height="1"/>
<rect x="313" y="172" width="1" height="1"/>
<rect x="316" y="172" width="1" height="1"/>
<rect x="319" y="172" width="1" height="1"/>
<rect x="322" y="172" width="1" height="1"/>
<rect x="325" y="172" width="1" height="1"/>
<rect x="328" y="172" width="1" height="1"/>
<rect x="331" y="172" width="1" height="1"/>
<rect x="334" y="172" width="1" height="1"/>
<rect x="337" y="172" width="1" height="1"/>
<rect x="340" y="172" width="1" height="1"/>
<rect x="343" y="172" width="1" height="1"/>
<rect x="346" y="172" width="1" height="1"/>
<rect x="349" y="172" width="1" height="1"/>
<rect x="352" y="172" width="1" height="1"/>
<rect x="355" y="172" width="1" height="1"/>
<rect x="358" y="172" width="1" height="1"/>
<rect x="361" y="172" width="1" height="1"/>
<rect x="364" y="172" width="1" height="1"/>
<rect x="367" y="172" width="1" height="1"/>
<rect x="370" y="172" width="1" height="1"/>
<rect x="373" y="172" width="1" height="1"/>
<rect x="376" y="172" width="1" height="1"/>
<rect x="379" y="172" width="1" height="1"/>
<rect x="382" y="172" width="1" height="1"/>
<rect x="385" y="172" width="1" height="1"/>
<rect x="388" y="172" width="1" height="1"/>
<rect x="391" y="172" width="1" height="1"/>
<rect x="394" y="172" width="1" height="1"/>
<rect x="397" y="172" width="1" height="1"/>
<rect x="400" y="172" width="1" height="1"/>
<rect x="403" y="172" width="1" height="1"/>
<rect x="406" y="172" width="1" height="1"/>
<rect x="409" y="172" width="1" height="1"/>
<rect x="412" y="172" width="1" height="1"/>
<rect x="415" y="172" width="1" height="1"/>
<rect x="418" y="172" width="1" height="1"/>
<rect x="421" y="172" width="1" height="1"/>
<rect x="424" y="172" width="1" height="1"/>
<rect x="427" y="172" width="1" height="1"/>
<rect x="430" y="172" width="1" height="1"/>
<rect x="433" y="172" width="1" height="1"/>
<rect x="436" y="172" width="1" height="1"/>
<rect x="439" y="172" width="1" height="1"/>
<rect x="442" y="172" width="1" height="1"/>
<rect x="445" y="172" width="1" height="1"/>
<rect x="448" y="172" width="1" height="1"/>
<rect x="451" y="172" width="1" height="1"/>
<rect x="454" y="172" width="1" height="1"/>
<rect x="457" y="172" width="1" height="1"/>
<rect x="460" y="172" width="1" height="1"/>
<rect x="463" y="172" width="1" height="1"/>
<rect x="466" y="172" width="1" height="1"/>
<rect x="469" y="172" width="1" height="1"/>
<rect x="472" y="172" width="1" height="1"/>
<rect x="475" y="172" width="1" height="1"/>
<rect x="478" y="172" width="1" height="1"/>
<rect x="481" y="172" width="1" height="1"/>
<rect x="484" y="172" width="1" height="1"/>
<rect x="487" y="172" width="1" height="1"/>
<rect x="490" y="172" width="1" height="1"/>
<rect x="493" y="172" width="1" height="1"/>
<rect x="496" y="172" width="1" height="1"/>
<rect x="499" y="172" width="1" height="1"/>
<rect x="502" y="172" width="1" height="1"/>
<rect x="505" y="172" width="1" height="1"/>
<rect x="508" y="172" width="1" height="1"/>
<rect x="511" y="172" width="1" height="1"/>
<rect x="514" y="172" width="1" height="1"/>
<rect x="517" y="172" width="1" height="1"/>
<rect x="520" y="172" width="1" height="1"/>
<rect x="523" y="172" width="1" height="1"/>
<rect x="526" y="172" width="1" height="1"/>
<rect x="529" y="172" width="1" height="1"/>
<rect x="532" y="172" width="1" height="1"/>
<rect x="535" y="172" width="1" height="1"/>
<rect x="538" y="172" width="1" height="1"/>
<rect x="541" y="172" width="1" height="1"/>
<rect x="544" y="172" width="1" height="1"/>
<rect x="547" y="172" width="1" height="1"/>
<rect x="550" y="172" width="1" height="1"/>
<rect x="553" y="172" width="1" height="1"/>
<rect x="556" y="172" width="1" height="1"/>
<rect x="559" y="172" width="1" height="1"/>
<rect x="562" y="172" width="1" height="1"/>
<rect x="565" y="172" width="1" height="1"/>
<rect x="568" y="172" width="1" height="1"/>
<rect x="571" y="172" width="1" height="1"/>
<rect x="574" y="172" width="1" height="1"/>
<rect x="577" y="172" width="1" height="1"/>
<rect x="580" y="172" width="1" height="1"/>
<rect x="583" y="172" width="1" height="1"/>
<rect x="586" y="172" width="1" height="1"/>
<rect x="589" y="172" width="1" height="1"/>
<rect x="592" y="172" width="1" height="1"/>
<rect x="595" y="172" width="1" height="1"/>
<rect x="598" y="172" width="1" height="1"/>
<rect x="601" y="172" width="1" height="1"/>
<rect x="604" y="172" width="1" height="1"/>
<rect x="607" y="172" width="1" height="1"/>
<rect x="610" y="172" width="1" height="1"/>
<rect x="613" y="172" width="1" height="1"/>
<rect x="616" y="172" width="1" height="1"/>
<rect x="619" y="172" width="1" height="1"/>
<rect x="622" y="172" width="1" height="1"/>
<rect x="625" y="172" width="1" height="1"/>
<rect x="628" y="172" width="1" height="1"/>
<rect x="631" y="172" width="1" height="1"/>
<rect x="634" y="172" width="1" height="1"/>
<rect x="637" y="172" width="1" height="1"/>
<rect x="640" y="172" width="1" height="1"/>
<rect x="643" y="172" width="1" height="1"/>
<rect x="646" y="172" width="1" height="1"/>
<rect x="649" y="172" width="1" height="1"/>
<rect x="652" y="172" width="1" height="1"/>
<rect x="655" y="172" width="1" height="1"/>
<rect x="658" y="172" width="1" height="1"/>
<rect x="661" y="172" width="1" height="1"/>
<rect x="664" y="172" width="1" height="1"/>
<rect x="667" y="172" width="1" height="1"/>
<rect x="670" y="172" width="1" height="1"/>
<rect x="673" y="172" width="1" height="1"/>
<rect x="676" y="172" width="1" height="1"/>
<rect x="679" y="172" width="1" height="1"/>
<rect x="682" y="172" width="1" height="1"/>
<rect x="685" y="172" width="1" height="1"/>
<rect x="688" y="172" width="1" height="1"/>
<rect x="691" y="172" width="1" height="1"/>
<rect x="694" y="172" width="1" height="1"/>
<rect x="697" y="172" width="1" height="1"/>
<rect x="700" y="172" width="1" height="1"/>
<rect x="703" y="172" width="1" height="1"/>
<rect x="706" y="172" width="1" height="1"/>
<rect x="709" y="172" width="1" height="1"/>
<rect x="712" y="172" width="1" height="1"/>
<rect x="715" y="172" width="1" height="1"/>
<rect x="718" y="172" width="1" height="1"/>
<rect x="721" y="172" width="1" height="1"/>
<rect x="724" y="172" width="1" height="1"/>
<rect x="727" y="172" width="1" height="1"/>
<rect x="730" y="172" width="1" height="1"/>
<rect x="733" y="172" width="1" height="1"/>
<rect x="736" y="172" width="1" height="1"/>
<rect x="739" y="172" width="1" height="1"/>
<rect x="742" y="172" width="1" height="1"/>
<rect x="745" y="172" width="1" height="1"/>
<rect x="748" y="172" width="1" height="1"/>
<rect x="751" y="172" width="1" height="1"/>
<rect x="754" y="172" width="1" height="1"/>
<rect x="757" y="172" width="1" height="1"/>
<rect x="760" y="172" width="1" height="1"/>
<rect x="763" y="172" width="1" height="1"/>
<rect x="766" y="172" width="1" height="1"/>
<rect x="769" y="172" width="1" height="1"/>
<rect x="772" y="172" width="1" height="1"/>
<rect x="775" y="172" width="1" height="1"/>
<rect x="778" y="172" width="1" height="1"/>
<rect x="781" y="172" width="1" height="1"/>
<rect x="784" y="172" width="1" height="1"/>
<rect x="787" y="172" width="1" height="1"/>
<rect x="790" y="172" width="1" height="1"/>
<rect x="793" y="172" width="1" height="1"/>
<rect x="796" y="172" width="1" height="1"/>
<rect x="799" y="172" width="1" height="1"/>
<rect x="802" y="172" width="1" height="1"/>
<rect x="805" y="172" width="1" height="1"/>
<rect x="808" y="172" width="1" height="1"/>
<rect x="811" y="172" width="1" height="1"/>
<rect x="814" y="172" width="1" height="1"/>
<rect x="817" y="172" width="1" height="1"/>
<rect x="820" y="172" width="1" height="1"/>
<rect x="823" y="172" width="1" height="1"/>
<rect x="826" y="172" width="1" height="1"/>
<rect x="829" y="172" width="1" height="1"/>
<rect x="832" y="172" width="1" height="1"/>
<rect x="835" y="172" width="1" height="1"/>
<rect x="838" y="172" width="1" height="1"/>
<rect x="841" y="172" width="1" height="1"/>
<rect x="844" y="172" width="1" height="1"/>
<rect x="847" y="172" width="1" height="1"/>
<rect x="850" y="172" width="1" height="1"/>
<rect x="853" y="172" width="1" height="1"/>
<rect x="856" y="172" width="1" height="1"/>
<rect x="859" y="172" width="1" height="1"/>
<rect x="862" y="172" width="1" height="1"/>
<rect x="865" y="172" width="1" height="1"/>
<rect x="868" y="172" width="1" height="1"/>
<rect x="871" y="172" width="1" height="1"/>
<rect x="874" y="172" width="1" height="1"/>
<rect x="877" y="172" width="1" height="1"/>
<rect x="880" y="172" width="1" height="1"/>
<rect x="883" y="172" width="1" height="1"/>
<rect x="886" y="172" width="1" height="1"/>
<rect x="889" y="172" width="1" height="1"/>
<rect x="892" y="172" width="1" height="1"/>
<rect x="895" y="172" width="1" height="1"/>
<rect x="898" y="172" width="1" height="1"/>
<rect x="901" y="172" width="1" height="1"/>
<rect x="904" y="172" width="1" height="1"/>
<rect x="907" y="172" width="1" height="1"/>
<rect x="910" y="172" width="1" height="1"/>
<rect x="913" y="172" width="1" height="1"/>
<rect x="916" y="172" width="1" height="1"/>
<rect x="919" y="172" width="1" height="1"/>
<rect x="922" y="172" width="1" height="1"/>
<rect x="925" y="172" width="1" height="1"/>
<rect x="928" y="172" width="1" height="1"/>
<rect x="931" y="172" width="1" height="1"/>
<rect x="934" y="172" width="1" height="1"/>
<rect x="937" y="172" width="1" height="1"/>
<rect x="940" y="172" width="1" height="1"/>
<rect x="943" y="172" width="1" height="1"/>
<rect x="946" y="172" width="1" height="1"/>
<rect x="949" y="172" width="1" height="1"/>
<rect x="952" y="172" width="1" height="1"/>
<rect x="955" y="172" width="1" height="1"/>
<rect x="958" y="172" width="1" height="1"/>
<rect x="961" y="172" width="1" height="1"/>
<rect x="964" y="172" width="1" height="1"/>
<rect x="967" y="172" width="1" height="1"/>
<rect x="970" y="172" width="1" height="1"/>
<rect x="973" y="172" width="1" height="1"/>
<rect x="976" y="172" width="1" height="1"/>
<rect x="979" y="172" width="1" height="1"/>
<rect x="982" y="172" width="1" height="1"/>
<rect x="985" y="172" width="1" height="1"/>
<rect x="988" y="172" width="1" height="1"/>
<rect x="991" y="172" width="1" height="1"/>
<rect x="994" y="172" width="1" height="1"/>
<rect x="997" y="172" width="1" height="1"/>
<rect x="1000" y="172" width="1" height="1"/>
<rect x="1003" y="172" width="1" height="1"/>
<rect x="1006" y="172" width="1" height="1"/>
<rect x="1009" y="172" width="1" height="1"/>
<rect x="1012" y="172" width="1" height="1"/>
<rect x="1015" y="172" width="1" height="1"/>
<rect x="1018" y="172" width="1" height="1"/>
<rect x="1021" y="172" width="1" height="1"/>
<rect x="1024" y="172" width="1" height="1"/>
<rect x="1027" y="172" width="1" height="1"/>
<rect x="1030" y="172" width="1" height="1"/>
<rect x="1033" y="172" width="1" height="1"/>
<rect x="1036" y="172" width="1" height="1"/>
<rect x="1039" y="172" width="1" height="1"/>
<rect x="1042" y="172" width="1" height="1"/>
<rect x="1045" y="172" width="1" height="1"/>
<rect x="1048" y="172" width="1" height="1"/>
<rect x="1051" y="172" width="1" height="1"/>
<rect x="1054" y="172" width="1" height="1"/>
<rect x="1057" y="172" width="1" height="1"/>
<rect x="1060" y="172" width="1" height="1"/>
<rect x="1063" y="172" width="1" height="1"/>
<rect x="1066" y="172" width="1" height="1"/>
<rect x="1069" y="172" width="1" height="1"/>
<rect x="1072" y="172" width="1" height="1"/>
<rect x="1075" y="172" width="1" height="1"/>
<rect x="1078" y="172" width="1" height="1"/>
<rect x="1081" y="172" width="1" height="1"/>
<rect x="1084" y="172" width="1" height="1"/>
<rect x="1087" y="172" width="1" height="1"/>
<rect x="1090" y="172" width="1" height="1"/>
<rect x="1093" y="172" width="1" height="1"/>
<rect x="1096" y="172" width="1" height="1"/>
<rect x="1099" y="172" width="1" height="1"/>
<rect x="1102" y="172" width="1" height="1"/>
<rect x="1105" y="172" width="1" height="1"/>
<rect x="1108" y="172" width="1" height="1"/>
<rect x="1111" y="172" width="1" height="1"/>
<rect x="1114" y="172" width="1" height="1"/>
<rect x="1117" y="172" width="1" height="1"/>
<rect x="1120" y="172" width="1" height="1"/>
<rect x="1123" y="172" width="1" height="1"/>
<rect x="1126" y="172" width="1" height="1"/>
<rect x="1129" y="172" width="1" height="1"/>
<rect x="1132" y="172" width="1" height="1"/>
<rect x="1135" y="172" width="1" height="1"/>
<rect x="1138" y="172" width="1" height="1"/>
<rect x="1141" y="172" width="1" height="1"/>
<rect x="1144" y="172" width="1" height="1"/>
<rect x="1147" y="172" width="1" height="1"/>
<rect x="1150" y="172" width="1" height="1"/>
<rect x="1153" y="172" width="1" height="1"/>
<rect x="1156" y="172" width="1" height="1"/>
<rect x="1159" y="172" width="1" height="1"/>
<rect x="1162" y="172" width="1" height="1"/>
<rect x="1165" y="172" width="1" height="1"/>
<rect x="1168" y="172" width="1" height="1"/>
<rect x="1171" y="172" width="1" height="1"/>
<rect x="1174" y="172" width="1" height="1"/>
<rect x="1177" y="172" width="1" height="1"/>
<rect x="1180" y="172" width="1" height="1"/>
<rect x="1183" y="172" width="1" height="1"/>
<rect x="1186" y="172" width="1" height="1"/>
<rect x="1189" y="172" width="1" height="1"/>
<rect x="1192" y="172" width="1" height="1"/>
<rect x="1195" y="172" width="1" height="1"/>
<rect x="1198" y="172" width="1" height="1"/>
<rect x="1201" y="172" width="1" height="1"/>
<rect x="1204" y="172" width="1" height="1"/>
<rect x="1207" y="172" width="1" height="1"/>
<rect x="1210" y="172" width="1" height="1"/>
<rect x="1213" y="172" width="1" height="1"/>
<rect x="1216" y="172" width="1" height="1"/>
<rect x="1219" y="172" width="1" height="1"/>
<rect x="1222" y="172" width="1" height="1"/>
<rect x="1225" y="172" width="1" height="1"/>
<rect x="1228" y="172" width="1" height="1"/>
<rect x="1231" y="172" width="1" height="1"/>
<rect x="1234" y="172" width="1" height="1"/>
<rect x="1237" y="172" width="1" height="1"/>
<rect x="1240" y="172" width="1" height="1"/>
<rect x="1243" y="172" width="1" height="1"/>
<rect x="1246" y="172" width="1" height="1"/>
<rect x="1249" y="172" width="1" height="1"/>
<rect x="1252" y="172" width="1" height="1"/>
<rect x="1255" y="172" width="1" height="1"/>
<rect x="1258" y="172" width="1" height="1"/>
<rect x="1261" y="172" width="1" height="1"/>
<rect x="1264" y="172" width="1" height="1"/>
<rect x="1267" y="172" width="1" height="1"/>
<rect x="1270" y="172" width="1" height="1"/>
<rect x="1273" y="172" width="1" height="1"/>
<rect x="1276" y="172" width="1" height="1"/>
<rect x="1279" y="172" width="1" height="1"/>
<rect x="1282" y="172" width="1" height="1"/>
<rect x="1285" y="172" width="1" height="1"/>
<rect x="1288" y="172" width="1" height="1"/>
<rect x="1291" y="172" width="1" height="1"/>
<rect x="1294" y="172" width="1" height="1"/>
<rect x="1297" y="172" width="1" height="1"/>
<rect x="1300" y="172" width="1" height="1"/>
<rect x="1303" y="172" width="1" height="1"/>
<rect x="1306" y="172" width="1" height="1"/>
<rect x="1309" y="172" width="1" height="1"/>
<rect x="1312" y="172" width="1" height="1"/>
<rect x="1315" y="172" width="1" height="1"/>
<rect x="1318" y="172" width="1" height="1"/>
<rect x="1321" y="172" width="1" height="1"/>
<rect x="1324" y="172" width="1" height="1"/>
<rect x="1327" y="172" width="1" height="1"/>
<rect x="1330" y="172" width="1" height="1"/>
<rect x="1333" y="172" width="1" height="1"/>
<rect x="1336" y="172" width="1" height="1"/>
<rect x="1339" y="172" width="1" height="1"/>
<rect x="1342" y="172" width="1" height="1"/>
<rect x="1345" y="172" width="1" height="1"/>
<rect x="1348" y="172" width="1" height="1"/>
<rect x="1351" y="172" width="1" height="1"/>
<rect x="1354" y="172" width="1" height="1"/>
<rect x="1357" y="172" width="1" height="1"/>
<rect x="1360" y="172" width="1" height="1"/>
<rect x="1363" y="172" width="1" height="1"/>
<rect x="1366" y="172" width="1" height="1"/>
<rect x="1369" y="172" width="1" height="1"/>
<rect x="1372" y="172" width="1" height="1"/>
<rect x="1375" y="172" width="1" height="1"/>
<rect x="1378" y="172" width="1" height="1"/>
<rect x="1381" y="172" width="1" height="1"/>
<rect x="1384" y="172" width="1" height="1"/>
<rect x="1387" y="172" width="1" height="1"/>
<rect x="1390" y="172" width="1" height="1"/>
<rect x="1393" y="172" width="1" height="1"/>
<rect x="1396" y="172" width="1" height="1"/>
<rect x="1399" y="172" width="1" height="1"/>
<rect x="1402" y="172" width="1" height="1"/>
<rect x="1405" y="172" width="1" height="1"/>
<rect x="1408" y="172" width="1" height="1"/>
<rect x="1411" y="172" width="1" height="1"/>
<rect x="1414" y="172" width="1" height="1"/>
<rect x="1417" y="172" width="1" height="1"/>
<rect x="1420" y="172" width="1" height="1"/>
<rect x="1423" y="172" width="1" height="1"/>
<rect x="1426" y="172" width="1" height="1"/>
<rect x="1429" y="172" width="1" height="1"/>
<rect x="1432" y="172" width="1" height="1"/>
<rect x="1435" y="172" width="1" height="1"/>
<rect x="1438" y="172" width="1" height="1"/>
<rect x="1441" y="172" width="1" height="1"/>
<rect x="1444" y="172" width="1" height="1"/>
<rect x="1447" y="172" width="1" height="1"/>
<rect x="1450" y="172" width="1" height="1"/>
<rect x="1453" y="172" width="1" height="1"/>
<rect x="1456" y="172" width="1" height="1"/>
<rect x="1459" y="172" width="1" height="1"/>
<rect x="1462" y="172" width="1" height="1"/>
<rect x="1465" y="172" width="1" height="1"/>
<rect x="1468" y="172" width="1" height="1"/>
<rect x="1471" y="172" width="1" height="1"/>
<rect x="1474" y="172" width="1" height="1"/>
<rect x="1477" y="172" width="1" height="1"/>
<rect x="1480" y="172" width="1" height="1"/>
<rect x="1483" y="172" width="1" height="1"/>
<rect x="1486" y="172" width="1" height="1"/>
<rect x="1489" y="172" width="1" height="1"/>
<rect x="1492" y="172" width="1" height="1"/>
<rect x="1495" y="172" width="1" height="1"/>
<rect x="1498" y="172" width="1" height="1"/>
<rect x="1501" y="172" width="1" height="1"/>
<rect x="1504" y="172" width="1" height="1"/>
<rect x="1507" y="172" width="1" height="1"/>
<rect x="1510" y="172" width="1" height="1"/>
<rect x="1513" y="172" width="1" height="1"/>
<rect x="1516" y="172" width="1" height="1"/>
<rect x="1519" y="172" width="1" height="1"/>
<rect x="1522" y="172" width="1" height="1"/>
<rect x="1525" y="172" width="1" height="1"/>
<rect x="1528" y="172" width="1" height="1"/>
<rect x="1531" y="172" width="1" height="1"/>
<rect x="1534" y="172" width="1" height="1"/>
<rect x="1537" y="172" width="1" height="1"/>
<rect x="1540" y="172" width="1" height="1"/>
<rect x="1543" y="172" width="1" height="1"/>
<rect x="1546" y="172" width="1" height="1"/>
<rect x="1549" y="172" width="1" height="1"/>
<rect x="1552" y="172" width="1" height="1"/>
<rect x="1555" y="172" width="1" height="1"/>
<rect x="1558" y="172" width="1" height="1"/>
</g>
<rect x="1088" y="203" width="473" height="2" fill="#C2185B" shape-rendering="crispEdges"/>
<polyline fill="none" stroke="#9E54C4" stroke-width="1.3" stroke-linejoin="round" points="1.0,510.3 3.1,509.2 12.1,509.4 21.1,539.9 30.1,549.3 39.1,557.2 48.1,568.6 57.1,568.4 66.1,551.7 75.1,548.0 84.1,545.0 92.1,555.8 101.1,587.3 110.1,567.5 119.1,575.9 128.1,574.4 137.1,585.4 146.1,580.7 155.1,583.2 164.1,571.8 173.1,544.6 181.1,519.9 190.1,523.4 199.1,522.7 208.1,539.4 217.1,536.6 226.1,538.1 235.1,530.2 244.1,527.6 253.1,537.5 262.1,547.2 270.1,548.5 279.1,543.3 288.1,537.1 297.1,524.2 306.1,558.3 315.1,556.2 324.1,537.5 333.1,538.2 342.1,524.4 351.1,543.9 359.1,551.3 368.1,560.3 377.1,545.2 386.1,556.5 395.1,547.0 404.1,539.6 413.1,534.1 422.1,535.8 431.1,546.9 440.1,539.9 449.1,531.5 457.1,525.1 466.1,543.9 475.1,550.6 484.1,541.2 493.1,556.0 502.1,560.9 511.1,570.8 520.1,585.2 529.1,559.6 538.1,566.3 546.1,555.5 555.1,535.1 564.1,529.6 573.1,530.9 582.1,550.0 591.1,537.0 600.1,535.9 609.1,543.2 618.1,543.4 627.1,545.1 635.1,528.6 644.1,549.0 653.1,556.3 662.1,523.9 671.1,521.9 680.1,513.3 689.1,497.5 698.1,509.0 707.1,526.2 716.1,521.3 724.1,520.0 733.1,519.4 742.1,505.0 751.1,524.5 760.1,505.2 769.1,510.7 778.1,493.9 787.1,487.4 796.1,472.6 805.1,471.3 814.1,517.7 822.1,503.7 831.1,501.6 840.1,513.0 849.1,511.2 858.1,504.0 867.1,504.2 876.1,498.1 885.1,524.6 894.1,526.3 903.1,516.2 911.1,532.5 920.1,505.0 929.1,494.9 938.1,498.8 947.1,498.6 956.1,500.4 965.1,511.3 974.1,511.3 983.1,495.4 992.1,469.2 1000.1,458.7 1009.1,454.4 1018.1,442.6 1027.1,424.0 1036.1,465.2 1045.1,460.6 1054.1,455.9 1063.1,442.2 1072.1,439.0 1081.1,465.1 1089.1,460.7 1098.1,454.4 1107.1,479.7 1116.1,472.9 1125.1,512.6 1134.1,514.6 1143.1,507.1 1152.1,500.8 1161.1,485.8 1170.1,479.5 1179.1,498.8 1187.1,509.6 1196.1,489.0 1205.1,489.2 1214.1,499.7 1223.1,531.3 1232.1,529.7 1241.1,534.3 1250.1,527.2 1259.1,538.5 1268.1,535.5"/>
<text y="26"><tspan x="11.04" font-size="15.6" fill="#131722" stroke="#131722" stroke-width="0.25" textLength="32.34" lengthAdjust="spacingAndGlyphs">West</tspan> <tspan x="48.08" font-size="15.6" fill="#131722" stroke="#131722" stroke-width="0.25" textLength="36.33" lengthAdjust="spacingAndGlyphs">Texas</tspan> <tspan x="88.40" font-size="15.6" fill="#131722" stroke="#131722" stroke-width="0.25" textLength="88.22" lengthAdjust="spacingAndGlyphs">Intermediate</tspan> <tspan x="180.89" font-size="15.6" fill="#131722" stroke="#131722" stroke-width="0.25" textLength="35.58" lengthAdjust="spacingAndGlyphs">(Oil),</tspan> <tspan x="220.54" font-size="15.6" fill="#131722" stroke="#131722" stroke-width="0.25" textLength="17.68" lengthAdjust="spacingAndGlyphs">1D</tspan></text>
<text y="26"><tspan x="246.70" font-size="15.6" fill="#131722" stroke="#131722" stroke-width="0.25" textLength="10.39" lengthAdjust="spacingAndGlyphs">O</tspan><tspan x="256.68" font-size="16.0" fill="#089981" stroke="#089981" stroke-width="0.25" textLength="45.68" lengthAdjust="spacingAndGlyphs">89.039</tspan> <tspan x="310.57" font-size="15.6" fill="#131722" stroke="#131722" stroke-width="0.25" textLength="10.23" lengthAdjust="spacingAndGlyphs">H</tspan><tspan x="321.06" font-size="16.0" fill="#089981" stroke="#089981" stroke-width="0.25" textLength="44.89" lengthAdjust="spacingAndGlyphs">90.580</tspan> <tspan x="373.71" font-size="15.6" fill="#131722" stroke="#131722" stroke-width="0.25" textLength="9.03" lengthAdjust="spacingAndGlyphs">L</tspan><tspan x="381.92" font-size="16.0" fill="#089981" stroke="#089981" stroke-width="0.25" textLength="45.44" lengthAdjust="spacingAndGlyphs">84.866</tspan> <tspan x="435.93" font-size="15.6" fill="#131722" stroke="#131722" stroke-width="0.25" textLength="8.93" lengthAdjust="spacingAndGlyphs">C</tspan><tspan x="445.40" font-size="16.0" fill="#089981" stroke="#089981" stroke-width="0.25" textLength="44.72" lengthAdjust="spacingAndGlyphs">90.034</tspan> <tspan x="498.13" font-size="16.0" fill="#089981" stroke="#089981" stroke-width="0.25" textLength="37.52" lengthAdjust="spacingAndGlyphs">0.916</tspan> <tspan x="540.61" font-size="16.0" fill="#089981" stroke="#089981" stroke-width="0.25" textLength="56.73" lengthAdjust="spacingAndGlyphs">(+1.03%)</tspan></text>
<text y="47"><tspan x="10.65" font-size="15.6" fill="#131722" stroke="#131722" stroke-width="0.25" textLength="27.48" lengthAdjust="spacingAndGlyphs">EMA</tspan> <tspan x="42.92" font-size="15.6" fill="#131722" stroke="#131722" stroke-width="0.25" textLength="26.54" lengthAdjust="spacingAndGlyphs">(20,</tspan> <tspan x="74.20" font-size="15.6" fill="#131722" stroke="#131722" stroke-width="0.25" textLength="39.28" lengthAdjust="spacingAndGlyphs">close,</tspan> <tspan x="118.00" font-size="15.6" fill="#131722" stroke="#131722" stroke-width="0.25" textLength="13.62" lengthAdjust="spacingAndGlyphs">0)</tspan> <tspan x="140.45" font-size="16.0" fill="#C2185B" stroke="#C2185B" stroke-width="0.25" textLength="45.45" lengthAdjust="spacingAndGlyphs">92.367</tspan></text>
<text y="429"><tspan x="11.20" font-size="15.6" fill="#131722" stroke="#131722" stroke-width="0.25" textLength="19.69" lengthAdjust="spacingAndGlyphs">RSI</tspan> <tspan x="35.53" font-size="15.6" fill="#131722" stroke="#131722" stroke-width="0.25" textLength="27.06" lengthAdjust="spacingAndGlyphs">(14)</tspan> <tspan x="71.92" font-size="16.0" fill="#9E54C4" stroke="#9E54C4" stroke-width="0.25" textLength="36.70" lengthAdjust="spacingAndGlyphs">49.34</tspan></text>
<text y="628"><tspan x="27.12" font-size="15.6" fill="#131722" stroke="#131722" stroke-width="0.25" textLength="23.84" lengthAdjust="spacingAndGlyphs">Oct</tspan></text>
<text y="628"><tspan x="230.62" font-size="15.6" fill="#131722" stroke="#131722" stroke-width="0.25" textLength="25.80" lengthAdjust="spacingAndGlyphs">Nov</tspan></text>
<text y="628"><tspan x="408.59" font-size="15.6" fill="#131722" stroke="#131722" stroke-width="0.25" textLength="26.23" lengthAdjust="spacingAndGlyphs">Dec</tspan></text>
<text y="628"><tspan x="600.07" font-size="16.0" fill="#131722" stroke="#131722" stroke-width="0.25" textLength="34.75" lengthAdjust="spacingAndGlyphs" font-weight="bold">2026</tspan></text>
<text y="628"><tspan x="800.69" font-size="15.6" fill="#131722" stroke="#131722" stroke-width="0.25" textLength="25.25" lengthAdjust="spacingAndGlyphs">Feb</tspan></text>
<text y="628"><tspan x="978.47" font-size="15.6" fill="#131722" stroke="#131722" stroke-width="0.25" textLength="25.03" lengthAdjust="spacingAndGlyphs">Mar</tspan></text>
<text y="628"><tspan x="1176.01" font-size="15.6" fill="#131722" stroke="#131722" stroke-width="0.25" textLength="22.60" lengthAdjust="spacingAndGlyphs">Apr</tspan></text>
<text y="628"><tspan x="1286.14" font-size="16.0" fill="#131722" stroke="#131722" stroke-width="0.25" textLength="15.98" lengthAdjust="spacingAndGlyphs">18</tspan></text>
<text y="628"><tspan x="1395.72" font-size="15.6" fill="#131722" stroke="#131722" stroke-width="0.25" textLength="27.53" lengthAdjust="spacingAndGlyphs">May</tspan></text>
<text y="628"><tspan x="1509.19" font-size="16.0" fill="#131722" stroke="#131722" stroke-width="0.25" textLength="15.26" lengthAdjust="spacingAndGlyphs">13</tspan></text>
<text y="9"><tspan x="1571.29" font-size="16.0" fill="#131722" stroke="#131722" stroke-width="0.25" textLength="52.17" lengthAdjust="spacingAndGlyphs">120.000</tspan></text>
<text y="65"><tspan x="1571.29" font-size="16.0" fill="#131722" stroke="#131722" stroke-width="0.25" textLength="52.17" lengthAdjust="spacingAndGlyphs">110.000</tspan></text>
<text y="122"><tspan x="1571.29" font-size="16.0" fill="#131722" stroke="#131722" stroke-width="0.25" textLength="52.17" lengthAdjust="spacingAndGlyphs">100.000</tspan></text>
<text y="234"><tspan x="1570.87" font-size="16.0" fill="#131722" stroke="#131722" stroke-width="0.25" textLength="45.26" lengthAdjust="spacingAndGlyphs">80.000</tspan></text>
<text y="290"><tspan x="1570.87" font-size="16.0" fill="#131722" stroke="#131722" stroke-width="0.25" textLength="45.26" lengthAdjust="spacingAndGlyphs">70.000</tspan></text>
<text y="346"><tspan x="1570.87" font-size="16.0" fill="#131722" stroke="#131722" stroke-width="0.25" textLength="45.26" lengthAdjust="spacingAndGlyphs">60.000</tspan></text>
<text y="403"><tspan x="1570.87" font-size="16.0" fill="#131722" stroke="#131722" stroke-width="0.25" textLength="45.26" lengthAdjust="spacingAndGlyphs">50.000</tspan></text>
<text y="454"><tspan x="1571.18" font-size="16.0" fill="#131722" stroke="#131722" stroke-width="0.25" textLength="36.40" lengthAdjust="spacingAndGlyphs">80.00</tspan></text>
<text y="511"><tspan x="1571.18" font-size="16.0" fill="#131722" stroke="#131722" stroke-width="0.25" textLength="36.40" lengthAdjust="spacingAndGlyphs">60.00</tspan></text>
<text y="568"><tspan x="1571.18" font-size="16.0" fill="#131722" stroke="#131722" stroke-width="0.25" textLength="36.40" lengthAdjust="spacingAndGlyphs">40.00</tspan></text>
<text y="189"><tspan x="1379.47" font-size="35" fill="#2962FF" stroke="#2962FF" stroke-width="0" textLength="17.12" lengthAdjust="spacingAndGlyphs">S</tspan><tspan x="1397.02" font-size="35" fill="#2962FF" stroke="#2962FF" stroke-width="0" textLength="103.81" lengthAdjust="spacingAndGlyphs">upport</tspan></text>
<path d="M1561 141H1620a2 2 0 0 1 2 2V160a2 2 0 0 1 -2 2H1561Z" fill="#C2185B"/>
<text x="1570.44" y="157" font-size="16" fill="#ffffff" stroke="#ffffff" stroke-width="0.55" textLength="45.65" lengthAdjust="spacingAndGlyphs">92.367</text>
<path d="M1561 162H1620a2 2 0 0 1 2 2V181a2 2 0 0 1 -2 2H1561Z" fill="#089981"/>
<text x="1570.44" y="178" font-size="16" fill="#ffffff" stroke="#ffffff" stroke-width="0.55" textLength="45.65" lengthAdjust="spacingAndGlyphs">90.034</text>
<path d="M1561 194H1620a2 2 0 0 1 2 2V213a2 2 0 0 1 -2 2H1561Z" fill="#C2185B"/>
<text x="1570.44" y="210" font-size="16" fill="#ffffff" stroke="#ffffff" stroke-width="0.55" textLength="45.65" lengthAdjust="spacingAndGlyphs">84.420</text>
<path d="M1561 526H1613a2 2 0 0 1 2 2V545a2 2 0 0 1 -2 2H1561Z" fill="#9E54C4"/>
<text x="1570.40" y="542" font-size="16" fill="#ffffff" stroke="#ffffff" stroke-width="0.55" textLength="38.02" lengthAdjust="spacingAndGlyphs">49.34</text>
<path d="M0 0H1637V641H0Z M1 2V639H1635V2Z" fill="#eef0f4" fill-rule="evenodd"/>
<rect x="1" y="2" width="1" height="637" fill="rgb(221,225,233)" fill-opacity="0.5" shape-rendering="crispEdges"/>
</svg>
</body></html>
